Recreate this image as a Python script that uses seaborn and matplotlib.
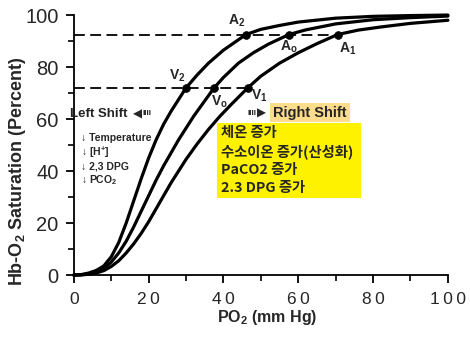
import numpy as np
import pandas as pd
import matplotlib
matplotlib.use("Agg")
import matplotlib.pyplot as plt
from matplotlib.patches import Rectangle
from matplotlib.ticker import MultipleLocator, FixedLocator
import seaborn as sns

# oxygen-hemoglobin dissociation curves (PO2 mmHg, % saturation)
left_x = [0, 2, 4, 6, 8, 10, 12, 14, 16, 18, 20, 22, 24, 26, 28, 30, 33, 36, 40, 46, 50, 55, 60, 70, 80, 90, 100]
left_y = [0, 0.2, 0.8, 1.8, 3.5, 7, 12.5, 20, 28.5, 37, 45, 52, 58, 63, 67.5, 72, 77, 81.5, 86.5, 92.5, 94.5, 96, 97.3, 98.8, 99.5, 99.8, 100]

mid_x = [0, 2, 4, 6, 8, 10, 12, 14, 16, 18, 20, 22, 24, 26, 28, 30, 32, 34, 37.5, 40, 44, 48, 52, 57.5, 62, 70, 80, 90, 100]
mid_y = [0, 0.1, 0.5, 1.2, 2.5, 5, 8.5, 13, 18.5, 24.5, 30.5, 36.5, 42, 47, 52, 56.5, 61, 65, 72, 76, 81.5, 85.5, 88.8, 92.5, 94.3, 96.6, 98.2, 99, 99.6]

right_x = [0, 2, 4, 6, 8, 10, 12, 14, 16, 18, 20, 22, 24, 26, 28, 30, 33, 36, 39, 42, 46.5, 50, 55, 60, 65, 70.5, 76, 82, 90, 100]
right_y = [0, 0.1, 0.3, 0.8, 1.7, 3.3, 5.5, 8.5, 12, 16, 20.5, 25.5, 30.5, 35.5, 40, 44.5, 50.5, 56, 61, 65.5, 72, 76.5, 81.5, 85.5, 89, 92.5, 94.2, 95.4, 96.8, 98]

# arterial (A) and venous (V) points
pt_labels = ["A$_2$", "A$_o$", "A$_1$", "V$_2$", "V$_o$", "V$_1$"]
pt_x = [46, 57.5, 70.5, 30, 37.5, 46.5]
pt_y = [92.5, 92.5, 92.5, 72, 72, 72]

left_notes = ["\u2193 Temperature", "\u2193 [H$^{+}$]", "\u2193 2,3 DPG", "\u2193 PCO$_2$"]
right_notes = ["체온 증가", "수소이온 증가(산성화)", "PaCO2 증가", "2.3 DPG 증가"]

x_ticks = [0, 20, 40, 60, 80, 100]
y_ticks = [0, 20, 40, 60, 80, 100]

curves = pd.concat([
    pd.DataFrame({"po2": left_x, "sat": left_y, "curve": "left"}),
    pd.DataFrame({"po2": mid_x, "sat": mid_y, "curve": "normal"}),
    pd.DataFrame({"po2": right_x, "sat": right_y, "curve": "right"}),
])
points = pd.DataFrame({"po2": pt_x, "sat": pt_y, "label": pt_labels})

sns.set_theme(style="ticks")
plt.rcParams["font.family"] = ["Liberation Sans", "DejaVu Sans"]
plt.rcParams["mathtext.default"] = "regular"

fig = plt.figure(figsize=(4.7, 3.5), dpi=100)
ax = fig.add_axes([0.157, 0.214, 0.796, 0.743])

# dashed guide lines to the A and V levels
for lvl in sorted(set(pt_y), reverse=True):
    end = max(x for x, y in zip(pt_x, pt_y) if y == lvl)
    ax.hlines(lvl, 0, end, colors="black", linestyles=(0, (6, 3)), linewidth=1.3, zorder=1)

sns.lineplot(data=curves, x="po2", y="sat", hue="curve", units="curve", estimator=None,
             palette=["black"] * 3, linewidth=2.3, legend=False, ax=ax, sort=False)
for ln in ax.lines:
    ln.set_clip_on(False)
    ln.set_solid_capstyle("round")
    ln.set_solid_joinstyle("round")

sns.scatterplot(data=points, x="po2", y="sat", color="black", s=32, edgecolor="black",
                legend=False, ax=ax, zorder=4)

offsets = [(-7, 10), (0, -9), (7, -10), (-6, 9), (4, -10), (8, -6)]
for lab, x, y, off in zip(pt_labels, pt_x, pt_y, offsets):
    ax.annotate(lab, (x, y), xytext=off, textcoords="offset points", ha="center", va="center",
                fontsize=10, fontweight="bold")

sym_font = ["DejaVu Sans"]

# left shift annotation
ax.text(-0.9, 62, "Left Shift", fontsize=9.5, fontweight="bold", color="#222222", va="center", ha="left",
        zorder=5)
ax.text(15.8, 62, "\u25c0", fontsize=8.5, family=sym_font, va="center", ha="left")
ax.text(18.4, 62, "IIII", fontsize=6, fontweight="bold", va="center", ha="left")
for i, note in enumerate(left_notes):
    ax.text(2.0, 52.7 - i * 5.4, note, fontsize=7.5, fontweight="bold", va="center", ha="left")

# right shift annotation
ax.text(46.3, 62.3, "IIII", fontsize=6, fontweight="bold", va="center", ha="left")
ax.text(49.0, 62.3, "\u25b6", fontsize=8.5, family=sym_font, va="center", ha="left")
ax.text(53.3, 62.5, "Right Shift", fontsize=10.5, fontweight="bold", va="center", ha="left",
        bbox=dict(boxstyle="square,pad=0.2", facecolor="#FCDD8C", edgecolor="none"))
ax.add_patch(Rectangle((38.4, 29.6), 38.5, 28.9, facecolor="#FFF200", edgecolor="none", zorder=2))
for i, note in enumerate(right_notes):
    ax.text(39.4, 54.6 - i * 7.0, note, fontsize=10.3, fontweight="bold", va="center", ha="left",
            family=["Noto Sans CJK KR", "DejaVu Sans"], zorder=3)

ax.set_xlim(0, 100)
ax.set_ylim(0, 100)
ax.xaxis.set_major_locator(FixedLocator(x_ticks))
ax.yaxis.set_major_locator(FixedLocator(y_ticks))
ax.xaxis.set_minor_locator(MultipleLocator(10))
ax.yaxis.set_minor_locator(MultipleLocator(10))
ax.set_xticklabels(["\u2009".join(str(t)) for t in x_ticks], fontsize=12.5)
ax.set_yticklabels([str(t) for t in y_ticks], fontsize=14.5)
ax.tick_params(axis="both", which="major", direction="out", length=6, width=1.3, color="black")
ax.tick_params(axis="both", which="minor", direction="out", length=4, width=1.2, color="black")
ax.tick_params(axis="x", which="major", pad=6)
ax.tick_params(axis="y", which="major", pad=5)

sns.despine(ax=ax)
for side in ["left", "bottom"]:
    ax.spines[side].set_linewidth(1.3)
    ax.spines[side].set_color("black")

ax.set_xlabel("PO$_2$ (mm Hg)", fontsize=11.5, fontweight="bold")
ax.set_ylabel("Hb-O$_2$ Saturation (Percent)", fontsize=13, fontweight="bold")
ax.xaxis.set_label_coords(0.516, -0.125)
ax.yaxis.set_label_coords(-0.122, 0.40)

fig.savefig("out.png", dpi=100)
